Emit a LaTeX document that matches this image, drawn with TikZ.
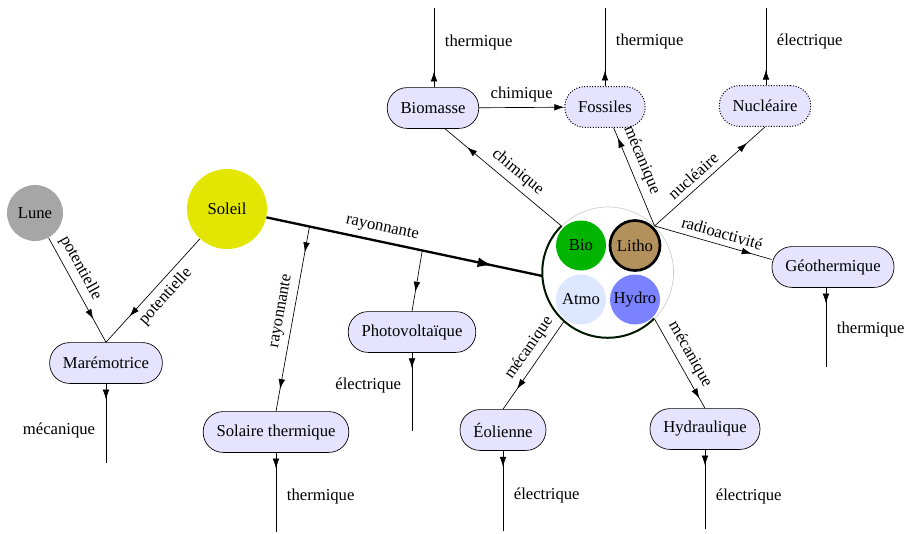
\documentclass[tikz,border=0pt]{standalone}
\usepackage{fontspec}
\setmainfont{Liberation Serif}
\usetikzlibrary{arrows.meta,decorations.markings}

\definecolor{convfill}{RGB}{229,227,253}
\definecolor{lunegray}{RGB}{166,166,166}
\definecolor{soleilyellow}{RGB}{226,230,0}
\definecolor{biogreen}{RGB}{0,180,0}
\definecolor{lithobrown}{RGB}{178,145,92}
\definecolor{atmoblue}{RGB}{221,231,255}
\definecolor{hydroblue}{RGB}{122,130,255}

\tikzset{
  flux/.style={postaction={decorate,decoration={markings,
      mark=at position #1 with {\arrow{Latex[length=6pt,width=4pt]}}}}},
  flux/.default=0.85,
  bigflux/.style={postaction={decorate,decoration={markings,
      mark=at position #1 with {\arrow{Latex[length=9pt,width=6pt]}}}}},
  astre/.style={circle,inner sep=0pt,minimum size=#1},
  conv/.style={draw,fill=convfill,rounded corners=12pt,minimum height=24.5pt,inner xsep=8pt},
  fossile/.style={conv,densely dotted,semithick},
  sphere/.style={circle,inner sep=0pt,minimum size=30pt},
}

\begin{document}
\begin{tikzpicture}[x=0.6pt,y=-0.6pt]
		%%%%% START %%%%%
		\useasboundingbox (0,0) rectangle (909,533);
		
		% sources
		\node[astre=33.6pt,fill=lunegray] (lune) at (35,213) {Lune};
		\node[astre=48pt,fill=soleilyellow] (soleil) at (227,209) {Soleil};
		
		% la terre et ses quatre spheres
		\node[circle,draw=black!20,minimum size=78.6pt,inner sep=0pt] (terre) at (608,272.5) {};
		\draw[very thick,black!90!green] (terre.135) arc[start angle=135,end angle=315,radius=39.3pt];
		\node[sphere,fill=biogreen] (bio) at (581,245.5) {Bio};
		\node[sphere,fill=lithobrown,draw,line width=1.6pt] (litho) at (635,245.5) {Litho};
		\node[sphere,fill=atmoblue] (atmo) at (581,299.5) {Atmo};
		\node[sphere,fill=hydroblue] (hydro) at (635,299.5) {Hydro};
		
		% convertisseurs
		\node[conv] (mare) at (106,363) {Marémotrice};
		\node[conv] (solth) at (276,432) {Solaire thermique};
		\node[conv] (photo) at (412,332) {Photovoltaïque};
		\node[conv] (biom) at (433,108) {Biomasse};
		\node[fossile] (foss) at (605,107) {Fossiles};
		\node[fossile] (nucl) at (765,106) {Nucléaire};
		\node[conv] (geo) at (833,267) {Géothermique};
		\node[conv] (eol) at (503,430) {Éolienne};
		\node[conv] (hydrau) at (705,429) {Hydraulique};
		
		% sorties
		\coordinate (biomout) at (434,8);
		\coordinate (fossout) at (605,8);
		\coordinate (nuclout) at (766,8);
		\coordinate (geoout) at (826,367);
		\coordinate (mareout) at (106,463);
		\coordinate (solthout) at (276,532);
		\coordinate (photoout) at (412,431);
		\coordinate (eolout) at (503,531);
		\coordinate (hydrauout) at (705,529);
		
		\draw[flux=0.78] (lune) -- node[sloped,above,pos=0.35] {potentielle} (mare.north);
		\draw[flux=0.75] (soleil) -- node[sloped,below,pos=0.47] {potentielle} (mare.north);
		
		\draw[line width=1.4pt,bigflux=0.82] (soleil) -- coordinate[pos=0.156] (ray1) coordinate[pos=0.565] (ray2)
			node[sloped,above,pos=0.41] {rayonnante} (terre.183);
		\draw[flux=0.14,flux=0.88] (ray1) -- node[sloped,above,pos=0.47] {rayonnante} (solth.north);
		\draw[flux=0.68] (ray2) -- (photo.north);
		
		\draw[flux=0.81] (terre.135) -- node[sloped,above,pos=0.45] {chimique} (biom.-60);
		\draw[flux=0.9] (terre.45) -- node[sloped,above,pos=0.62] {mécanique} (foss);
		\draw[flux=0.84] (terre.45) -- node[sloped,above,pos=0.42] {nucléaire} (nucl.south);
		\draw[flux=0.83] (terre.45) -- node[sloped,above,pos=0.55] {radioactivité} (geo.173);
		\draw[flux=0.77] (terre.228) -- node[sloped,above,pos=0.39] {mécanique} (eol.north);
		\draw[flux=0.89] (terre.315) -- node[sloped,above,pos=0.47] {mécanique} (hydrau.north);
		
		\draw[-{Latex[length=6pt,width=4pt]}] (biom) -- node[above] {chimique} (foss);
		
		\draw[flux=0.2] (biom.north -| biomout) -- node[right=3pt,pos=0.57] {thermique} (biomout);
		\draw[flux=0.2] (foss.north) -- node[right=3pt,pos=0.57] {thermique} (fossout);
		\draw[flux=0.2] (nucl.north -| nuclout) -- node[right=3pt,pos=0.57] {électrique} (nuclout);
		\draw[flux=0.2] (geo.south -| geoout) -- node[right=3pt,pos=0.53] {thermique} (geoout);
		\draw[flux=0.2] (mare.south) -- node[left=3pt,pos=0.59] {mécanique} (mareout);
		\draw[flux=0.2] (solth.south) -- node[right=3pt,pos=0.55] {thermique} (solthout);
		\draw[flux=0.2] (photo.south) -- node[left=3pt,pos=0.42] {électrique} (photoout);
		\draw[flux=0.2] (eol.south) -- node[right=3pt,pos=0.56] {électrique} (eolout);
		\draw[flux=0.2] (hydrau.south) -- node[right=3pt,pos=0.59] {électrique} (hydrauout);
		
		%%%%% END %%%%%
\end{tikzpicture}
\end{document}
